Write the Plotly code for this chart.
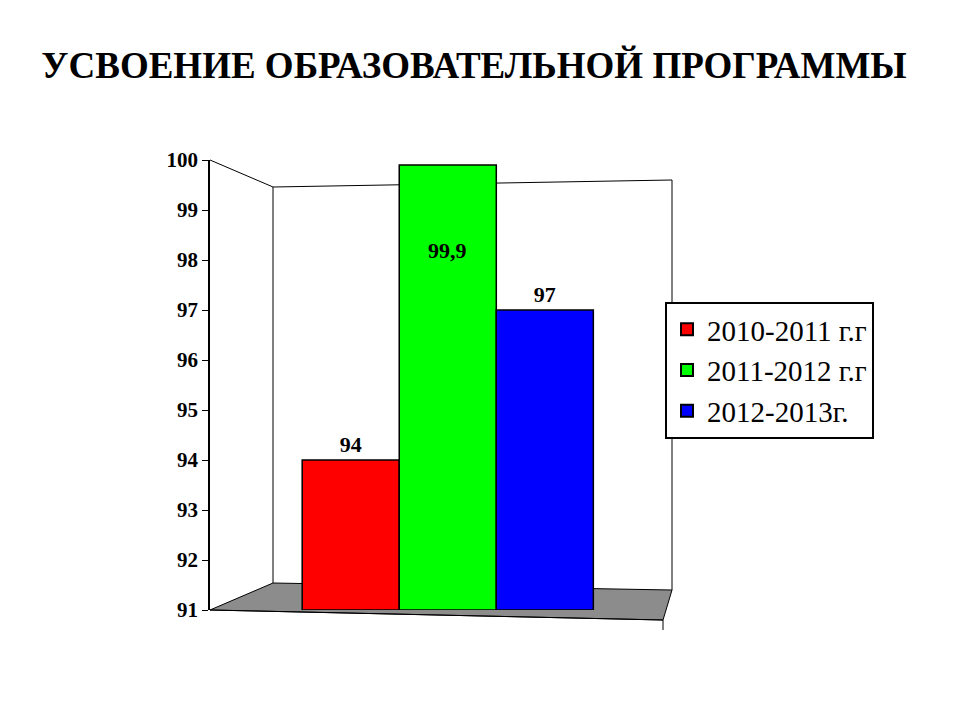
import plotly.graph_objects as go

series = ["2010-2011 г.г", "2011-2012 г.г", "2012-2013г."]
values = [94, 99.9, 97]
labels = ["<b>94</b>", "<b>99,9</b>", "<b>97</b>"]
colors = ["#ff0000", "#00ff00", "#0000ff"]
yticks = [91, 92, 93, 94, 95, 96, 97, 98, 99, 100]

W, H = 960, 720
OFF = 8
def px(x): return (x - OFF) / W
def py(y): return 1 - (y - OFF) / H

fig = go.Figure()
for i, (s, v, c) in enumerate(zip(series, values, colors)):
    inside = i == 1
    fig.add_trace(go.Bar(
        x=[i], y=[v - 91], base=91, name=s, width=1,
        marker=dict(color=c, line=dict(color="black", width=1.5)),
        text=None if inside else [labels[i]], textposition="outside",
        textfont=dict(family="Liberation Serif", size=22, color="black"),
        cliponaxis=False,
    ))
fig.add_annotation(x=1, y=values[1] - 1.7, text=labels[1], showarrow=False,
                   font=dict(family="Liberation Serif", size=22, color="black"))

shapes = [
    dict(type="path", xref="paper", yref="paper", layer="below",
         path=f"M {px(210)} {py(610)} L {px(273)} {py(583)} L {px(672)} {py(590)} L {px(663)} {py(620)} Z",
         fillcolor="#8c8c8c", line=dict(color="black", width=1)),
    dict(type="path", xref="paper", yref="paper", layer="below",
         path=f"M {px(273)} {py(583)} L {px(273)} {py(187)} L {px(672)} {py(180)} L {px(672)} {py(590)}",
         line=dict(color="black", width=1)),
    dict(type="line", xref="paper", yref="paper", layer="below",
         x0=px(210), y0=py(160), x1=px(273), y1=py(187), line=dict(color="black", width=1)),
    dict(type="line", xref="paper", yref="paper", layer="below",
         x0=px(210), y0=py(610), x1=px(663), y1=py(620), line=dict(color="black", width=1)),
    dict(type="line", xref="paper", yref="paper", layer="below",
         x0=px(663), y0=py(620), x1=px(663), y1=py(630), line=dict(color="black", width=1)),
]

fig.update_layout(
    width=W, height=H, margin=dict(l=0, r=0, t=0, b=0, autoexpand=False),
    paper_bgcolor="white", plot_bgcolor="rgba(0,0,0,0)",
    showlegend=True, barmode="overlay",
    title=dict(text="<b>УСВОЕНИЕ ОБРАЗОВАТЕЛЬНОЙ ПРОГРАММЫ</b>", x=px(474), y=py(65), xanchor="center", yanchor="middle",
               font=dict(family="Liberation Serif", size=37, color="black"), automargin=False),
    xaxis=dict(domain=[px(210), px(670)], range=[-1.45, 3.29], visible=False, automargin=False),
    yaxis=dict(domain=[py(610), py(160)], range=[91, 100], tickvals=yticks,
               ticktext=[f"<b>{t}</b>" for t in yticks], automargin=False,
               showgrid=False, zeroline=False, showline=True, linecolor="black", linewidth=1.5,
               ticks="outside", ticklen=6, tickcolor="black",
               tickfont=dict(family="Liberation Serif", size=21, color="black")),
    legend=dict(x=px(665), y=py(302), xanchor="left", yanchor="top",
                bordercolor="black", borderwidth=2, bgcolor="white",
                font=dict(family="Liberation Serif", size=29, color="black"),
                itemsizing="constant"),
    shapes=shapes,
)
fig.write_html("out.html")
